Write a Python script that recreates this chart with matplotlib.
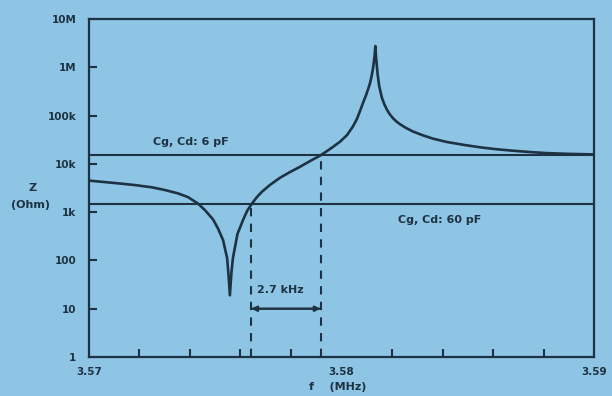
import numpy as np
import matplotlib
matplotlib.use("Agg")
import matplotlib.pyplot as plt

# impedance curve: frequency (MHz) and |Z| (Ohm)
freq = [3.57000, 3.57115, 3.57182, 3.57250, 3.57301, 3.57352, 3.57392,
        3.57432, 3.57459, 3.57491, 3.57511, 3.57531, 3.57547, 3.57552,
        3.57558, 3.57564, 3.57570, 3.57588, 3.57610, 3.57626, 3.57643,
        3.57665, 3.57685, 3.57717, 3.57756, 3.57796, 3.57836, 3.57875,
        3.57917, 3.57954, 3.57994, 3.58022, 3.58046, 3.58061, 3.58073,
        3.58085, 3.58097, 3.58105, 3.58113, 3.58119, 3.58125, 3.58131,
        3.58134, 3.58137, 3.58143, 3.58149, 3.58160, 3.58170, 3.58180,
        3.58192, 3.58204, 3.58218, 3.58232, 3.58255, 3.58283, 3.58320,
        3.58362, 3.58418, 3.58489, 3.58549, 3.58610, 3.58679, 3.58745,
        3.58814, 3.58900, 3.59000]
z_ohm = [4500, 3950, 3640, 3260, 2870, 2450, 2050,
         1500, 1105, 710, 458, 264, 112, 55,
         19, 55, 112, 352, 686, 1054, 1450,
         2050, 2645, 3670, 5130, 6760, 8710, 11400,
         15000, 20200, 28700, 39500, 60300, 85100, 123000,
         182000, 263000, 347000, 468000, 646000, 962000, 1710000,
         2750000, 1580000, 724000, 417000, 234000, 170000, 132000,
         105000, 88100, 75000, 66100, 55600, 46800, 39400,
         33300, 28300, 24500, 22000, 20200, 18700, 17600,
         16700, 16100, 15700]

# load lines (Cg, Cd) and their crossings with the curve
z_6pf = 15000
z_60pf = 1450
f_cross_60 = 3.57643
f_cross_6 = 3.57917

yticks = [1, 10, 100, 1e3, 1e4, 1e5, 1e6, 1e7]
ylabels = ["1", "10", "100", "1k", "10k", "100k", "1M", "10M"]
xticks = [3.57, 3.58, 3.59]

bg = "#8ec5e5"
ink = "#1d3242"

fig = plt.figure(figsize=(6.12, 3.96), dpi=100, facecolor=bg)
ax = fig.add_axes([0.1454, 0.0985, 0.8252, 0.8535], facecolor=bg)

ax.plot(freq, z_ohm, color=ink, lw=1.9, solid_joinstyle="round")
ax.axhline(z_6pf, color=ink, lw=1.5)
ax.axhline(z_60pf, color=ink, lw=1.5)
ax.vlines([f_cross_60], 1, z_60pf, colors=ink, linestyles=(0, (4, 3.5)), lw=1.5)
ax.vlines([f_cross_6], 1, z_6pf, colors=ink, linestyles=(0, (4, 3.5)), lw=1.5)

ax.annotate("", xy=(f_cross_6, 10), xytext=(f_cross_60, 10),
            arrowprops=dict(arrowstyle="-|>", color=ink, lw=1.5,
                            mutation_scale=8, shrinkA=0, shrinkB=0))
ax.annotate("", xy=(f_cross_60, 10), xytext=(f_cross_6, 10),
            arrowprops=dict(arrowstyle="-|>", color=ink, lw=1.5,
                            mutation_scale=8, shrinkA=0, shrinkB=0))

tfont = dict(color=ink, fontsize=8, fontweight="bold", family="DejaVu Sans")
ax.text(3.57253, 28000, "Cg, Cd: 6 pF", ha="left", va="center", **tfont)
ax.text(3.58224, 690, "Cg, Cd: 60 pF", ha="left", va="center", **tfont)
ax.text(3.57665, 24, "2.7 kHz", ha="left", va="center", **tfont)

ax.set_yscale("log")
ax.set_ylim(1, 1e7)
ax.set_xlim(3.57, 3.59)
ax.set_yticks(yticks)
ax.set_yticklabels(ylabels)
ax.yaxis.set_minor_locator(matplotlib.ticker.NullLocator())
ax.set_xticks(xticks)
ax.set_xticklabels(["3.57", "3.58", "3.59"])
ax.set_xticks(np.arange(3.572, 3.5895, 0.002), minor=True)

ax.tick_params(axis="both", which="both", direction="in", color=ink,
               labelcolor=ink, width=1.5, length=6, labelsize=7.5)
ax.tick_params(axis="x", which="major", length=0, pad=7)
ax.tick_params(axis="y", pad=9)
for lab in ax.get_xticklabels() + ax.get_yticklabels():
    lab.set_fontweight("bold")
for s in ax.spines.values():
    s.set_color(ink)
    s.set_linewidth(1.6)

fig.text(0.054, 0.525, "Z", ha="center", va="center", **tfont)
fig.text(0.05, 0.482, "(Ohm)", ha="center", va="center", **tfont)
fig.text(0.552, 0.022, "f    (MHz)", ha="center", va="center", **tfont)

fig.savefig("out.png", dpi=100, facecolor=bg)
